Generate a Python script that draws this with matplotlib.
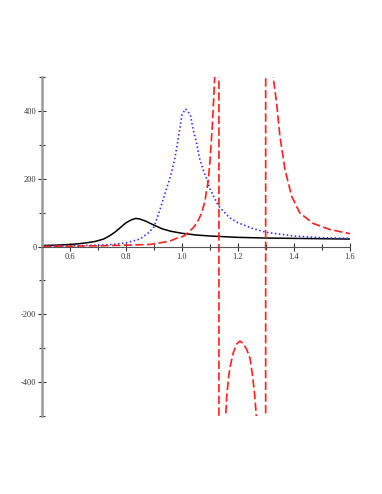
import numpy as np
import matplotlib
matplotlib.use("Agg")
import matplotlib.pyplot as plt
from matplotlib.ticker import MultipleLocator, FormatStrFormatter

plt.rcParams['font.family'] = ['Liberation Serif', 'DejaVu Serif']
plt.rcParams['axes.unicode_minus'] = False

# --- data ---
black_x = [0.50, 0.55, 0.60, 0.63, 0.66, 0.69, 0.72, 0.74, 0.76, 0.78, 0.80, 0.82,
           0.835, 0.85, 0.87, 0.90, 0.93, 0.96, 1.00, 1.05, 1.10, 1.15, 1.20, 1.30,
           1.40, 1.50, 1.60]
black_y = [3, 4, 6, 8, 11, 15, 22, 31, 42, 56, 70, 79,
           83, 81, 75, 63, 52, 45, 39, 34, 31, 29, 27, 25,
           24, 23, 22]

blue_x = [0.50, 0.60, 0.70, 0.75, 0.80, 0.85, 0.88, 0.90, 0.92, 0.94, 0.96, 0.975,
          0.99, 1.00, 1.013, 1.03, 1.04, 1.052, 1.062, 1.075, 1.09, 1.10, 1.13,
          1.17, 1.20, 1.25, 1.30, 1.40, 1.50, 1.60]
blue_y = [0.5, 1.5, 4, 6, 11, 22, 40, 58, 105, 158, 210, 262,
          335, 389, 406, 389, 345, 306, 262, 228, 196, 170, 120,
          85, 70, 54, 42, 31, 26, 24]

# red curve, with its two poles (Maple joins the branches across them)
red_x = [0.50, 0.60, 0.70, 0.80, 0.886, 0.93, 0.957, 0.98, 1.005, 1.02, 1.04, 1.055,
         1.07, 1.082, 1.094, 1.10, 1.108, 1.114, 1.118, 1.1315,
         1.1325, 1.156, 1.16, 1.166, 1.172, 1.183, 1.195, 1.207, 1.22, 1.232, 1.243,
         1.252, 1.26, 1.266, 1.2985,
         1.2995, 1.326, 1.338, 1.35, 1.368, 1.392, 1.421, 1.469, 1.529, 1.60]
red_y = [0.5, 1, 2, 4, 6, 12, 16, 24, 30, 40, 55, 72,
         98, 134, 195, 252, 350, 448, 520, 20000,
         -20000, -505, -440, -390, -355, -314, -288, -279, -287, -305, -330,
         -380, -440, -505, -20000,
         20000, 498, 424, 325, 227, 148, 99, 68, 50, 38]

fig = plt.figure(figsize=(3.82, 4.94), dpi=100)
ax = fig.add_axes([0.110, 0.158, 0.806, 0.686])

ax.plot(black_x, black_y, color='black', lw=1.1)
ax.plot(blue_x, blue_y, color='#3030ff', lw=1.2, dashes=(0.9, 1.5))
ax.plot(red_x, red_y, color='#ff2020', lw=1.2, dashes=(5, 2))

ax.set_xlim(0.5, 1.6)
ax.set_ylim(-500, 500)

for s in ['top', 'right']:
    ax.spines[s].set_visible(False)
ax.spines['bottom'].set_position(('data', 0))
ax.spines['bottom'].set_color('#555555')
ax.spines['bottom'].set_linewidth(0.8)
ax.spines['left'].set_color('#999999')
ax.spines['left'].set_linewidth(1.8)

ax.set_xticks([0.6, 0.8, 1.0, 1.2, 1.4, 1.6])
ax.xaxis.set_minor_locator(MultipleLocator(0.1))
ax.xaxis.set_major_formatter(FormatStrFormatter('%.1f'))
ax.yaxis.set_major_locator(MultipleLocator(200))
ax.yaxis.set_minor_locator(MultipleLocator(100))
ax.yaxis.set_major_formatter(FormatStrFormatter('%d'))

ax.tick_params(axis='both', which='major', direction='inout', length=6, width=0.8,
               colors='#333333', labelsize=6, pad=2)
ax.tick_params(axis='both', which='minor', direction='inout', length=4, width=0.8,
               colors='#333333')
ax.tick_params(axis='y', which='both', pad=1)

fig.savefig('out.png', dpi=100)
